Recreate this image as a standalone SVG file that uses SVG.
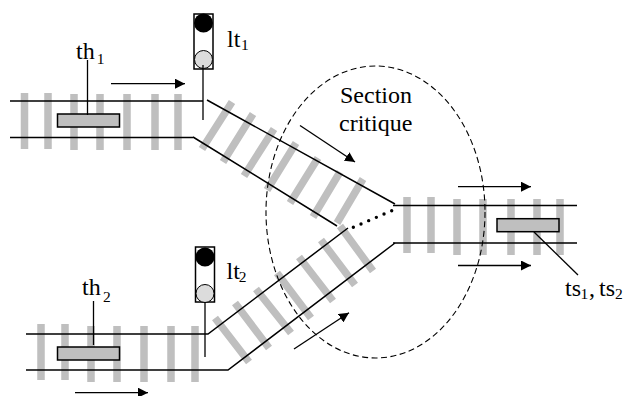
<svg xmlns="http://www.w3.org/2000/svg" width="623" height="396" viewBox="0 0 623 396">
<style>
.sl{stroke:#bfbfbf;stroke-width:7.5;fill:none}
.r{stroke:#000;stroke-width:1.5;fill:none}
.l{stroke:#000;stroke-width:1.3;fill:none}
.train{fill:#bfbfbf;stroke:#000;stroke-width:1.5}
.box{fill:#fff;stroke:#000;stroke-width:1.5}
text{font-family:"Liberation Serif","Times New Roman",serif;font-size:24px;fill:#000}
.s{font-size:15.5px}
</style>
<defs>
<marker id="a" markerUnits="userSpaceOnUse" markerWidth="11" markerHeight="10" refX="10" refY="5" orient="auto"><path d="M0 0L10 5L0 10Z" fill="#000"/></marker>
</defs>
<rect width="623" height="396" fill="#fff"/>
<g id="sleepers">
<path class="sl" d="M24.5 93V149M48 93V149M74 94V150M100 94V150M127 94V150M155 94V150M178 94V150"/>
<path class="sl" d="M232 102L202 149M253 114L223 162M274 129L244 176M296 143L267 190M318 158L290 203M340 172L313 217M363 179L337 223"/>
<path class="sl" d="M41 324V380M65 324V380M91 326V382M117 326V382M144 326V382M171 326V382M195 326V382"/>
<path class="sl" d="M215 318L249 362M235 303L269 348M256 289L291 333M277 273L311 318M299 257L333 301M321 240L355 285M340 226L373 271"/>
<path class="sl" d="M407 197V253M431 197V253M457 199V255M483 199V255M511 199V255M537 199V255M560 199V255"/>
</g>
<g id="connectors">
<path class="r" d="M10 101H203M10 137.500H193M207 100L395 204M193 137L337 226"/>
<path class="r" d="M26 334H208L348 228M26 370H228L395 243"/>
<path class="r" d="M393 205.500H577M393 243H577"/>
<path d="M391.700 210.700L353.300 227.300" fill="none" stroke="#000" stroke-width="3.400" stroke-linecap="round" stroke-dasharray="0 8.360"/>
<ellipse cx="375.500" cy="212" rx="109.500" ry="146" fill="none" stroke="#000" stroke-width="1.100" stroke-dasharray="6 3.500"/>
<path class="l" marker-end="url(#a)" d="M111 83.700H185"/>
<path class="l" marker-end="url(#a)" d="M300 125.500L355 162"/>
<path class="l" marker-end="url(#a)" d="M458 186.700H531"/>
<path class="l" marker-end="url(#a)" d="M458 265.500H531"/>
<path class="l" marker-end="url(#a)" d="M294 349L349 312.700"/>
<path class="l" marker-end="url(#a)" d="M75 392.700H148"/>
</g>
<g id="th1">
<rect class="train" x="57.500" y="114" width="62" height="13"/>
<path class="l" d="M87.500 60V115"/>
<text x="76" y="58.700">th</text><text class="s" x="96.700" y="64">1</text>
</g>
<g id="th2">
<rect class="train" x="57.500" y="347" width="62" height="13"/>
<path class="l" d="M93.500 301V345"/>
<text x="82" y="295">th</text><text class="s" x="103" y="301.700">2</text>
</g>
<g id="ts">
<rect class="train" x="497" y="218.700" width="62" height="13"/>
<path class="l" d="M534 232L578 275"/>
<text x="565" y="296">ts</text><text class="s" x="580.500" y="298.500">1</text><text x="589" y="296">,</text><text x="599" y="296">ts</text><text class="s" x="615" y="298.500">2</text>
</g>
<g id="lt1">
<rect class="box" x="194" y="14" width="19" height="55"/>
<circle cx="203.500" cy="23" r="9.500" fill="#000"/>
<circle cx="203.500" cy="59.500" r="9" fill="#dcdcdc" stroke="#000" stroke-width="1"/>
<path class="l" d="M203 65V120"/>
<text x="227" y="46.700">lt</text><text class="s" x="241" y="49.500">1</text>
</g>
<g id="lt2">
<rect class="box" x="195.500" y="247" width="19" height="55"/>
<circle cx="205" cy="257" r="9.500" fill="#000"/>
<circle cx="205" cy="293.500" r="9" fill="#dcdcdc" stroke="#000" stroke-width="1"/>
<path class="l" d="M205 302V357"/>
<text x="226.500" y="279.300">lt</text><text class="s" x="238.700" y="282">2</text>
</g>
<g id="section">
<text x="340" y="102.700">Section</text>
<text x="339" y="130.700">critique</text>
</g>
</svg>
